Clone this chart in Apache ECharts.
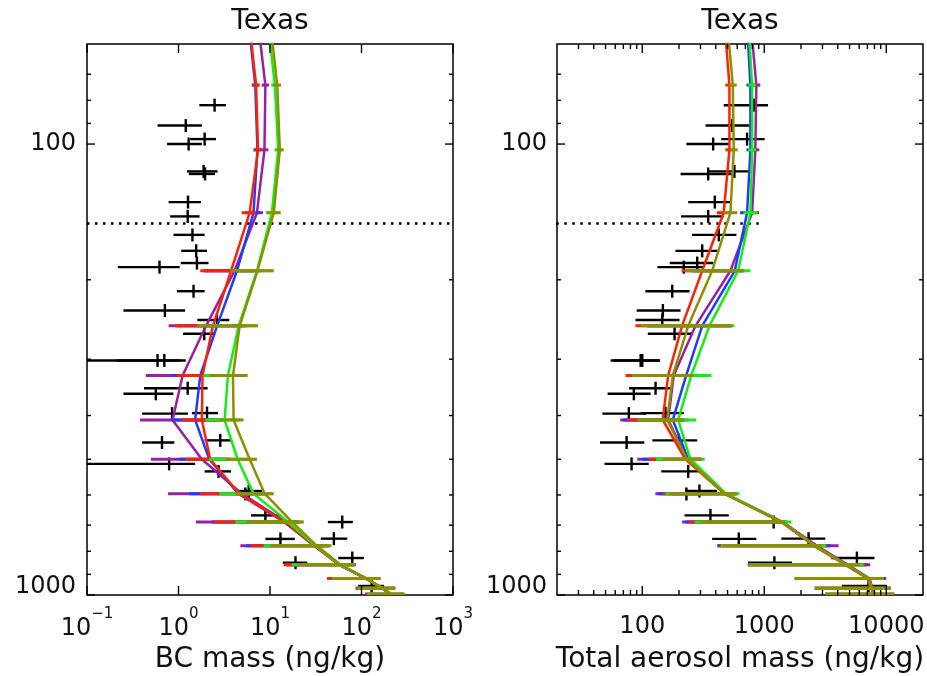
<!DOCTYPE html>
<html>
<head>
<meta charset="utf-8">
<script src="https://cdn.jsdelivr.net/npm/echarts@6/dist/echarts.min.js"></script>
<style>
  html, body { margin: 0; padding: 0; background: #fff; }
  #chart { width: 927px; height: 676px; }
</style>
</head>
<body>
<div id="chart"></div>
<script>
// ---- Model profiles: pressure levels (hPa) -------------------------------
const modelPressure = [55, 74, 103, 142, 191, 253, 326, 409, 500, 596, 689, 778, 857, 919, 966, 996];

// ---- BC mass (ng/kg): model means and spread bars -------------------------
const bcPurple   = [7.5, 8.9, 8.7, 7.2, 4.1, 2.0, 1.11, 0.86, 1.80, 4.9, 15, 31, 58, 112, 170, 210];
const bcPurpleLo = [null, 8.1, 7.9, 6.0, 1.9, 0.78, 0.44, 0.38, 0.50, 0.77, 1.55, 4.74, 15, 45, 88, 109];
const bcPurpleHi = [null, 9.8, 9.6, 8.4, 7.5, 5.0, 3.2, 2.8, 3.3, 9.0, 21, 44, 87, 160, 230, 290];

const bcBlue   = [5.9, 6.9, 7.3, 6.6, 4.36, 2.64, 1.73, 1.52, 2.17, 4.5, 14.3, 30.5, 57, 112, 170, 208];
const bcBlueLo = [null, 6.3, 6.6, 5.5, 1.9, 0.95, 0.88, 0.86, 1.02, 1.31, 2.32, 5.5, 15, 45, 88, 110];
const bcBlueHi = [null, 7.6, 8.0, 7.8, 8.0, 5.5, 3.5, 3.0, 3.6, 9.5, 21, 44, 84, 158, 230, 290];

const bcRed   = [6.0, 7.05, 7.4, 6.0, 3.75, 2.38, 1.83, 1.80, 2.22, 4.6, 14.5, 30.5, 57, 110, 168, 205];
const bcRedLo = [null, 6.4, 6.7, 4.9, 1.73, 0.92, 0.96, 1.09, 1.18, 1.73, 2.42, 6.1, 14.1, 42, 86, 110];
const bcRedHi = [null, 7.7, 8.1, 7.0, 7.6, 5.6, 3.6, 3.2, 3.7, 9.5, 20, 43, 83, 158, 228, 290];

const bcGreen   = [9.6, 11.3, 12.3, 10.5, 7.2, 4.55, 3.47, 3.19, 4.43, 6.6, 15.8, 31.5, 58, 112, 171, 210];
const bcGreenLo = [null, 10.3, 11.2, 9.0, 3.8, 1.7, 1.88, 1.96, 2.17, 2.79, 4.18, 8.5, 17.5, 48, 91, 116];
const bcGreenHi = [null, 12.4, 13.5, 12.2, 10.6, 7.2, 5.3, 4.8, 6.6, 10.5, 23, 46, 84, 160, 232, 295];

const bcOlive   = [10.2, 12.0, 12.8, 11.0, 7.3, 4.66, 3.94, 4.0, 6.0, 8.75, 17.5, 32.5, 59, 113, 172, 212];
const bcOliveLo = [null, 10.9, 11.7, 9.3, 3.7, 1.59, 2.22, 2.86, 3.25, 4.18, 5.6, 10.1, 19.8, 50, 94, 120];
const bcOliveHi = [null, 13.2, 14.1, 13.1, 11.0, 7.4, 5.7, 5.15, 7.2, 11.0, 23.4, 47, 84.7, 162, 236, 299];

// ---- Total aerosol mass (ng/kg): model means and spread bars ---------------
const totPurple   = [780, 861, 845, 795, 528, 273, 181, 163, 233, 474, 1420, 2700, 4850, 7300, 7700, 8100];
const totPurpleLo = [null, 798, 784, 697, 250, 110, 85, 66, 91, 128, 212, 411, 731, 1780, 2585, 3162];
const totPurpleHi = [null, 928, 911, 906, 690, 530, 255, 220, 300, 590, 1500, 4064, 7390, 9980, 10800, 11600];

const totBlue   = [725, 770, 770, 723, 573, 310, 229, 178, 238, 478, 1400, 2600, 4700, 7150, 7600, 8000];
const totBlueLo = [null, 714, 714, 634, 260, 110, 90, 70, 100, 135, 225, 420, 740, 1780, 2600, 3162];
const totBlueHi = [null, 830, 830, 824, 680, 540, 300, 240, 305, 595, 1550, 3500, 7000, 9700, 10800, 11600];

const totRed   = [475, 518, 518, 465, 310, 212, 163, 147, 226, 470, 1380, 2550, 4600, 7000, 7500, 7900];
const totRedLo = [null, 480, 480, 408, 210, 88, 73, 75, 113, 147, 241, 430, 740, 1780, 2600, 3162];
const totRedHi = [null, 558, 558, 530, 620, 520, 250, 215, 300, 590, 1480, 3300, 6800, 9600, 10900, 11600];

const totGreen   = [745, 795, 795, 770, 611, 355, 252, 197, 248, 485, 1410, 2600, 4700, 7150, 7600, 8000];
const totGreenLo = [null, 737, 737, 675, 260, 115, 100, 95, 130, 155, 270, 440, 745, 1780, 2620, 3162];
const totGreenHi = [null, 857, 857, 878, 770, 569, 369, 277, 325, 626, 1667, 3200, 6500, 9500, 10800, 11600];

const totOlive   = [500, 552, 562, 528, 374, 238, 178, 160, 233, 472, 1400, 2600, 4700, 7150, 7620, 8000];
const totOliveLo = [null, 512, 521, 463, 226, 97, 82, 91, 147, 165, 300, 451, 746, 1774, 2655, 3162];
const totOliveHi = [null, 595, 606, 602, 678, 545, 264, 219, 310, 599, 1489, 2970, 6115, 9490, 10760, 11600];

// ---- Aircraft observations -------------------------------------------------
const obsPressure = [82, 91, 97.5, 100, 115, 116.5, 134.5, 144.7, 159, 172.5, 183.6, 187.5, 212, 234, 245.5, 263.5,
  302, 302, 348, 358, 396, 395, 459, 454, 512, 532, 588, 597, 666, 689, 751, 750, 828, 848, 955];
const obsBC   = [2.48, 1.20, 1.93, 1.29, 1.88, 1.95, 1.27, 1.26, 1.42, 1.56, 1.59, 0.62, 1.46, 0.71, 2.63, 1.91,
  0.59, 0.70, 1.26, 0.565, 0.85, 2.05, 0.66, 2.86, 0.79, 2.74, 5.85, 5.38, 8.9, 61.6, 13.0, 49.9, 79.3, 19.0, 129];
const obsBCLo = [1.69, 0.59, 1.34, 0.75, 1.24, 1.30, 0.78, 0.81, 0.88, 1.07, 1.06, 0.217, 0.96, 0.25, 1.61, 1.12,
  0.21, 0.04, 0.42, 0.25, 0.40, 1.40, 0.40, 1.93, 0.05, 1.93, 4.36, 4.2, 6.2, 42.9, 8.9, 35.9, 55.7, 13.8, 92];
const obsBCHi = [3.30, 1.80, 2.57, 1.80, 2.67, 2.50, 1.76, 1.70, 1.93, 2.05, 2.13, 1.03, 1.93, 1.18, 3.59, 2.52,
  1.05, 1.20, 2.08, 0.88, 1.27, 2.70, 0.90, 3.75, 1.52, 3.75, 8.2, 7.6, 13.0, 80.5, 18.7, 69.9, 106, 25.5, 176];
const obsTot   = [819, 545, 723, 381, 569, 347, 393, 347, 424, 310, 282, 219, 176, 147.5, 146, 184,
  97, 100, 128.5, 85.3, 77.6, 155, 74.4, 199.5, 81.7, 238, 294, 230, 362, 1194, 618, 2307, 5745, 1210, 7150];
const obsTotLo = [465, 330, 443, 230, 351, 206, 238, 208, 256, 187, 168, 133, 106, 90, 88, 111,
  55, 58, 78, 52, 47, 97, 45, 121, 49, 143, 226, 179, 222, 1050, 374, 1380, 3540, 736, 4335];
const obsTotHi = [1074, 755, 1007, 512, 770, 562, 535, 465, 591, 416, 381, 319, 244, 206, 202, 256,
  139, 139, 171, 117, 108, 219, 104, 282, 113, 290, 411, 290, 512, 1350, 861, 3162, 8000, 1687, 10120];

// ---- Reference level (dotted) ---------------------------------------------
const refLevel = 150;
const refLineX = [0.1, 1000];

// ---- Axis ticks and labels -------------------------------------------------
const pressureTicks = [100, 1000];
const pressureTickLabels = ['100', '1000'];
const pressureMinorTicks = [70, 80, 90, 200, 300, 400, 500, 600, 700, 800, 900];
const bcTicks = [0.1, 1, 10, 100, 1000];
const bcTickExponents = [-1, 0, 1, 2, 3];
const totTicks = [100, 1000, 10000];
const totTickLabels = ['100', '1000', '10000'];
const totMinorTicks = [30, 40, 50, 60, 70, 80, 90, 200, 300, 400, 500, 600, 700, 800, 900,
  2000, 3000, 4000, 5000, 6000, 7000, 8000, 9000];

const FONT = 'DejaVu Sans';
const INK = '#111';

const models = [
  { name: 'purple', color: '#9a1ea6', bc: [bcPurple, bcPurpleLo, bcPurpleHi], tot: [totPurple, totPurpleLo, totPurpleHi] },
  { name: 'blue',   color: '#1e3cff', bc: [bcBlue, bcBlueLo, bcBlueHi],       tot: [totBlue, totBlueLo, totBlueHi] },
  { name: 'red',    color: '#ff2200', bc: [bcRed, bcRedLo, bcRedHi],          tot: [totRed, totRedLo, totRedHi] },
  { name: 'green',  color: '#10f010', bc: [bcGreen, bcGreenLo, bcGreenHi],    tot: [totGreen, totGreenLo, totGreenHi] },
  { name: 'olive',  color: '#8e8e00', bc: [bcOlive, bcOliveLo, bcOliveHi],    tot: [totOlive, totOliveLo, totOliveHi] }
];

function profileSeries(idx, color, mean, z) {
  return {
    type: 'line', xAxisIndex: idx, yAxisIndex: idx, z: z,
    data: mean.map((v, i) => [v, modelPressure[i]]),
    showSymbol: false, symbol: 'none', clip: true, silent: true,
    lineStyle: { color: color, width: 2.5 }
  };
}

function spreadSeries(idx, color, lo, hi, z) {
  const data = [];
  lo.forEach((v, i) => { if (v != null) data.push([v, hi[i], modelPressure[i]]); });
  return {
    type: 'custom', xAxisIndex: idx, yAxisIndex: idx, z: z, clip: true, silent: true,
    encode: { x: [0, 1], y: 2 },
    data: data,
    renderItem: function (params, api) {
      const a = api.coord([api.value(0), api.value(2)]);
      const b = api.coord([api.value(1), api.value(2)]);
      return { type: 'line', shape: { x1: a[0], y1: a[1], x2: b[0], y2: b[1] },
        style: { stroke: color, lineWidth: 3 } };
    }
  };
}

function obsSeries(idx, val, lo, hi) {
  return {
    type: 'custom', xAxisIndex: idx, yAxisIndex: idx, z: 2, clip: true, silent: true,
    encode: { x: [0, 1, 2], y: 3 },
    data: val.map((v, i) => [v, lo[i], hi[i], obsPressure[i]]),
    renderItem: function (params, api) {
      const c = api.coord([api.value(0), api.value(3)]);
      const a = api.coord([api.value(1), api.value(3)]);
      const b = api.coord([api.value(2), api.value(3)]);
      return { type: 'group', children: [
        { type: 'line', shape: { x1: a[0], y1: c[1], x2: b[0], y2: c[1] }, style: { stroke: '#000', lineWidth: 2.4 } },
        { type: 'line', shape: { x1: c[0], y1: c[1] - 6.5, x2: c[0], y2: c[1] + 6.5 }, style: { stroke: '#000', lineWidth: 2.4 } }
      ] };
    }
  };
}

// Inward tick marks on all four sides of a panel
function tickSeries(idx, xMajor, xMinor, anchorX) {
  const data = [];
  xMajor.forEach(v => data.push([v, 100, 0]));
  xMinor.forEach(v => data.push([v, 100, 1]));
  pressureTicks.forEach(p => data.push([anchorX, p, 2]));
  pressureMinorTicks.forEach(p => data.push([anchorX, p, 3]));
  return {
    type: 'custom', xAxisIndex: idx, yAxisIndex: idx, z: 20, clip: false, silent: true,
    encode: { x: 0, y: 1 },
    data: data,
    renderItem: function (params, api) {
      const cs = params.coordSys;
      const kind = api.value(2);
      const pt = api.coord([api.value(0), api.value(1)]);
      const st = { stroke: '#000', lineWidth: 1.4 };
      if (kind < 2) {
        const len = kind === 0 ? 9 : 5;
        const x = pt[0], yb = cs.y + cs.height, yt = cs.y;
        return { type: 'group', children: [
          { type: 'line', shape: { x1: x, y1: yb, x2: x, y2: yb - len }, style: st },
          { type: 'line', shape: { x1: x, y1: yt, x2: x, y2: yt + len }, style: st }
        ] };
      }
      const len = kind === 2 ? 8 : 4;
      const y = pt[1], xl = cs.x, xr = cs.x + cs.width;
      return { type: 'group', children: [
        { type: 'line', shape: { x1: xl, y1: y, x2: xl + len, y2: y }, style: st },
        { type: 'line', shape: { x1: xr, y1: y, x2: xr - len, y2: y }, style: st }
      ] };
    }
  };
}

function refSeries(idx) {
  return {
    type: 'line', xAxisIndex: idx, yAxisIndex: idx, z: 1, clip: true, silent: true,
    data: refLineX.map(x => [x, refLevel]),
    showSymbol: false, symbol: 'none',
    lineStyle: { color: '#000', width: 2.5, type: [2.5, 5.5] }
  };
}

const series = [refSeries(0), refSeries(1),
  obsSeries(0, obsBC, obsBCLo, obsBCHi), obsSeries(1, obsTot, obsTotLo, obsTotHi)];
models.forEach((m, k) => {
  const z = 3 + k;
  series.push(profileSeries(0, m.color, m.bc[0], z));
  series.push(spreadSeries(0, m.color, m.bc[1], m.bc[2], z));
  series.push(profileSeries(1, m.color, m.tot[0], z));
  series.push(spreadSeries(1, m.color, m.tot[1], m.tot[2], z));
});
series.push(tickSeries(0, bcTicks, [], 1));
series.push(tickSeries(1, totTicks, totMinorTicks, 100));

const labelFont = { fontFamily: FONT, color: INK, fontSize: 24 };
const nameFont = { fontFamily: FONT, color: INK, fontSize: 28 };

function pressureAxis(idx) {
  return {
    type: 'log', logBase: 10, gridIndex: idx, min: 60, max: 1000, inverse: true,
    axisLine: { show: false }, axisTick: { show: false }, splitLine: { show: false },
    axisLabel: Object.assign({
      margin: idx === 0 ? 11 : 10,
      showMinLabel: false,
      verticalAlignMaxLabel: 'bottom',
      formatter: v => {
        const i = pressureTicks.indexOf(Math.round(v));
        if (i < 0) return '';
        // the bottom label sits just above the lower frame edge
        return i === pressureTicks.length - 1 ? '{m|' + pressureTickLabels[i] + '}' : pressureTickLabels[i];
      },
      rich: { m: { fontFamily: FONT, color: INK, fontSize: 24, lineHeight: 16 } }
    }, labelFont)
  };
}

const option = {
  animation: false,
  backgroundColor: '#ffffff',
  title: [
    { text: 'Texas', left: 270, top: 8, padding: 0, textAlign: 'center',
      textStyle: { fontFamily: FONT, color: INK, fontSize: 28, fontWeight: 'normal' } },
    { text: 'Texas', left: 740, top: 8, padding: 0, textAlign: 'center',
      textStyle: { fontFamily: FONT, color: INK, fontSize: 28, fontWeight: 'normal' } }
  ],
  grid: [
    { left: 87, top: 44, width: 366, height: 551, containLabel: false, outerBoundsMode: 'none',
      show: true, borderColor: '#000', borderWidth: 1.5, backgroundColor: 'transparent' },
    { left: 557, top: 44, width: 366, height: 551, containLabel: false, outerBoundsMode: 'none',
      show: true, borderColor: '#000', borderWidth: 1.5, backgroundColor: 'transparent' }
  ],
  xAxis: [
    {
      type: 'log', logBase: 10, gridIndex: 0, min: 0.1, max: 1000,
      axisLine: { show: false }, axisTick: { show: false }, splitLine: { show: false },
      name: 'BC mass (ng/kg)', nameLocation: 'middle', nameGap: 51, nameTextStyle: nameFont,
      axisLabel: {
        margin: 12,
        formatter: v => {
          const e = Math.round(Math.log10(v));
          if (bcTickExponents.indexOf(e) < 0) return '';
          return '{b|10}{s|' + String(e).replace('-', '\u2212') + '}';
        },
        rich: {
          b: { fontFamily: FONT, color: INK, fontSize: 24, lineHeight: 34, verticalAlign: 'bottom' },
          s: { fontFamily: FONT, color: INK, fontSize: 15, lineHeight: 34, verticalAlign: 'top' }
        }
      }
    },
    {
      type: 'log', logBase: 10, gridIndex: 1, min: 20, max: 20000,
      axisLine: { show: false }, axisTick: { show: false }, splitLine: { show: false },
      name: 'Total aerosol mass (ng/kg)', nameLocation: 'middle', nameGap: 51, nameTextStyle: nameFont,
      axisLabel: Object.assign({
        margin: 20, showMinLabel: false, showMaxLabel: false,
        formatter: v => {
          const i = totTicks.indexOf(Math.round(v));
          return i >= 0 ? totTickLabels[i] : '';
        }
      }, labelFont)
    }
  ],
  yAxis: [pressureAxis(0), pressureAxis(1)],
  series: series
};

const chart = echarts.init(document.getElementById('chart'), null, { renderer: 'canvas' });
chart.setOption(option);
</script>
</body>
</html>
